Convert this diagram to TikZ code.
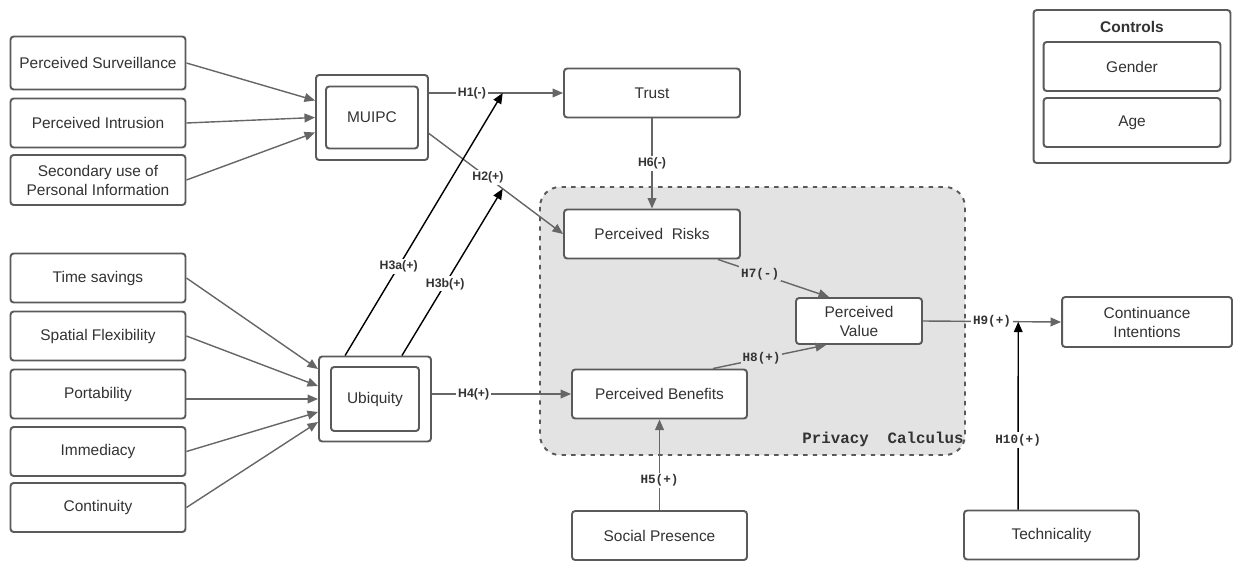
\documentclass[tikz,border=0pt]{standalone}
\usepackage{fontspec}
\setmainfont{Liberation Sans}
\setmonofont{Liberation Mono}
\usetikzlibrary{arrows.meta,positioning,calc,backgrounds}

\definecolor{boxline}{HTML}{5A5A5A}
\definecolor{arrline}{HTML}{666666}
\definecolor{txt}{HTML}{333333}
\definecolor{calcfill}{HTML}{E3E3E3}

\tikzset{
  construct/.style={draw=boxline, line width=1.1pt, rounded corners=1.8pt, fill=white,
    text=txt, align=center, minimum width=3.5cm, minimum height=0.98cm, inner sep=1pt,
    font=\fontsize{8.8pt}{10.8pt}\selectfont},
  outerbox/.style={construct, minimum width=2.24cm, minimum height=1.7cm},
  link/.style={draw=arrline, line width=0.8pt, -{Triangle[length=6pt,width=5pt]}},
  boost/.style={link, draw=black, -{Triangle[length=6pt,width=5pt,fill=black]}},
  hyp/.style={fill=white, inner sep=1pt, text=txt, font=\bfseries\fontsize{7pt}{8pt}\selectfont},
  hypmono/.style={hyp, font=\ttfamily\bfseries\fontsize{7.2pt}{8pt}\selectfont},
  region/.style={draw=boxline, fill=calcfill, line width=1.1pt, dash pattern=on 2.5pt off 3pt, rounded corners=0.4cm}
}

\begin{document}
\begin{tikzpicture}[x=0.02cm, y=-0.02cm]
\useasboundingbox (0,0) rectangle (1233,561);

\begin{pgfonlayer}{background}
  \draw[region] (540,187) rectangle (965,455);
  \node[anchor=base east, inner sep=0pt, text=txt, font=\ttfamily\bfseries\fontsize{9pt}{10pt}\selectfont] (pclabel) at (964,443) {Privacy~~Calculus};
\end{pgfonlayer}

\node[construct, minimum height=1.06cm] (surv) at (98,63) {Perceived Surveillance};
\node[construct] (intr) at (98,123) {Perceived Intrusion};
\node[construct, minimum height=1cm] (sec) at (98,180) {Secondary use of\\Personal Information};

\node[construct] (time) at (98,278) {Time savings};
\node[construct] (spat) at (98,336) {Spatial Flexibility};
\node[construct] (port) at (98,394) {Portability};
\node[construct] (imm) at (98,451.5) {Immediacy};
\node[construct] (cont) at (98,507.5) {Continuity};

\node[outerbox] (muipc) at (372,117.5) {};
\node[construct, minimum width=1.84cm, minimum height=1.24cm] (muipcin) at (muipc) {MUIPC};
\node[outerbox] (ubiq) at (375,399) {};
\node[construct, minimum width=1.76cm, minimum height=1.28cm] (ubiqin) at (ubiq) {Ubiquity};

\node[construct, minimum width=3.52cm] (trust) at (652,93) {Trust};
\node[construct, minimum width=3.52cm] (risks) at (652,234) {Perceived~ Risks};
\node[construct] (benefits) at (659.5,394) {Perceived Benefits};
\node[construct, minimum width=2.52cm, minimum height=0.92cm] (value) at (859,321) {Perceived\\Value};
\node[construct] (social) at (659.5,535.5) {Social Presence};
\node[construct] (tech) at (1051.5,535) {Technicality};
\node[construct, minimum width=3.4cm, minimum height=1cm] (intent) at (1147,322) {Continuance\\Intentions};

\node[construct, minimum width=3.94cm, minimum height=3.06cm] (controls) at (1132,86.5) {};
\node[text=txt, font=\bfseries\fontsize{8.8pt}{10pt}\selectfont] (ctitle) at (1132,27) {Controls};
\node[construct, minimum width=3.54cm] (gender) at (1132,66.5) {Gender};
\node[construct, minimum width=3.54cm] (age) at (1132,122.5) {Age};

\draw[link] (surv.east) -- ($(muipc.west)+(0,-17)$);
\draw[link] (intr.east) -- (muipc.west);
\draw[link] (sec.east) -- ($(muipc.west)+(0,15)$);

\draw[link] (time.east) -- ($(ubiq.west)+(0,-30)$);
\draw[link] (spat.east) -- ($(ubiq.west)+(0,-13)$);
\draw[link] (port.east |- ubiq.west) -- (ubiq.west);
\draw[link] (imm.east) -- ($(ubiq.west)+(0,13)$);
\draw[link] (cont.east) -- ($(ubiq.west)+(0,23)$);

\draw[link] (muipc.east |- trust.west) -- (trust.west)
  node[hyp, pos=0.32] (h1) {H1(-)}
  coordinate[pos=0.55] (h1end);
\draw[link] ($(muipc.east)+(0,16)$) -- (risks.west)
  node[hyp, pos=0.44] (h2) {H2(+)}
  coordinate[pos=0.55] (h2end);
\draw[boost] ($(ubiq.north west)+(27,0)$) -- (h1end)
  node[hyp, pos=0.34] (h3a) {H3a(+)};
\draw[boost] ($(ubiq.north east)+(-30,0)$) -- (h2end)
  node[hyp, pos=0.43] (h3b) {H3b(+)};
\draw[link] (ubiq.east |- benefits.west) -- (benefits.west)
  node[hyp, pos=0.3] (h4) {H4(+)};
\draw[link] (social.north) -- (benefits.south)
  node[hypmono, pos=0.33] (h5) {H5(+)};
\draw[link] (trust.south) -- (risks.north)
  node[hyp, pos=0.5] (h6) {H6(-)};
\draw[link] ($(risks.south east)+(-23,0)$) -- ($(value.north west)+(34,0)$)
  node[hypmono, fill=calcfill, pos=0.38] (h7) {H7(-)};
\draw[link] ($(benefits.north east)+(-35,0)$) -- ($(value.south west)+(31,0)$)
  node[hypmono, fill=calcfill, pos=0.43] (h8) {H8(+)};
\draw[link] (value.east) -- (intent.west)
  node[hypmono, pos=0.5] (h9) {H9(+)}
  coordinate[pos=0.69] (h9end);
\draw[boost] ($(tech.north west)+(55,0)$) -- (h9end)
  node[hypmono, pos=0.37] (h10) {H10(+)};

\end{tikzpicture}
\end{document}
